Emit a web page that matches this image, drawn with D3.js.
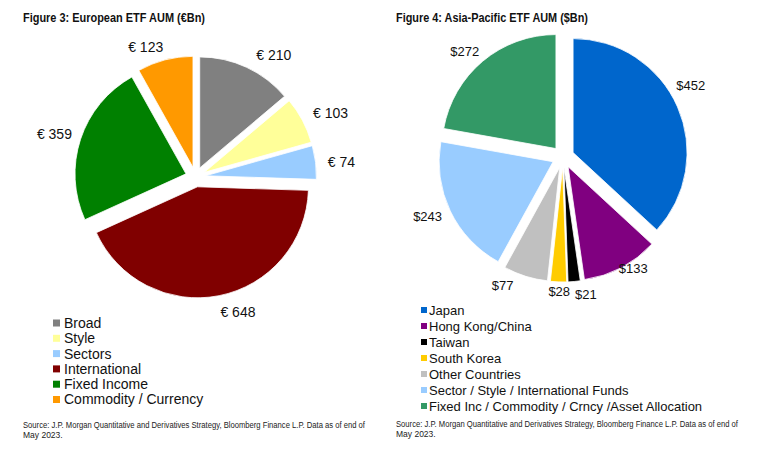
<!DOCTYPE html>
<html><head><meta charset="utf-8">
<script src="https://cdn.jsdelivr.net/npm/d3@7"></script>
<style>
body{margin:0;background:#fff;}
svg{display:block;font-family:"Liberation Sans",Arial,sans-serif;}
</style></head>
<body><svg id="c" width="768" height="470"></svg>
<script>
// ---- Data ----
const euCategories = ["Broad","Style","Sectors","International","Fixed Income","Commodity / Currency"];
const euValues = [210,103,74,648,359,123];
const euLabels = ["€ 210","€ 103","€ 74","€ 648","€ 359","€ 123"];
const apCategories = ["Japan","Hong Kong/China","Taiwan","South Korea","Other Countries","Sector / Style / International Funds","Fixed Inc / Commodity / Crncy /Asset Allocation"];
const apValues = [452,133,21,28,77,243,272];
const apLabels = ["$452","$133","$21","$28","$77","$243","$272"];
const euColors = ["#808080","#FFFF99","#99CCFF","#800000","#008000","#FF9900"];
const apColors = ["#0066CC","#800080","#000000","#FFCC00","#C0C0C0","#99CCFF","#339966"];
const titles = ["Figure 3: European ETF AUM (€Bn)","Figure 4: Asia-Pacific ETF AUM ($Bn)"];
const sourceLines = ["Source: J.P. Morgan Quantitative and Derivatives Strategy, Bloomberg Finance L.P. Data as of end of","May 2023."];

const svg = d3.select("#c");

// layout (label nudges: [angle degrees, radius px])
const panels = [
  {cats:euCategories, vals:euValues, labels:euLabels, colors:euColors, title:titles[0],
   cx:195.5, cy:177, r:111, d:10, gap:12, labelFont:14,
   labelAdj:[[6,2],[1,1],[1,0],[-5,1],[0,-2],[-5,-2]],
   lgX:53, lgY:323, lgStep:15.3, lgFont:14, sq:7, lgTextX:64,
   titleX:23, titleW:182, srcX:23, srcY:425, srcW:342},
  {cats:apCategories, vals:apValues, labels:apLabels, colors:apColors, title:titles[1],
   cx:563, cy:157, r:114, d:11, gap:9, labelFont:13,
   labelAdj:[[-7,0],[-3,-11],[-4,-1],[-0.5,-6],[7,1],[0.5,1],[-1.5,0]],
   lgX:421, lgY:310, lgStep:16, lgFont:13, sq:6, lgTextX:429,
   titleX:396, titleW:192, srcX:396, srcY:424, srcW:342}
];

panels.forEach(p => {
  const g = svg.append("g");
  g.append("text").attr("x", p.titleX).attr("y", 22)
    .attr("font-family", "'Liberation Sans Narrow','Arial Narrow','Liberation Sans',Arial,sans-serif")
    .attr("font-weight", "bold").attr("font-size", 12).attr("fill", "#111")
    .attr("textLength", p.titleW).attr("lengthAdjust", "spacingAndGlyphs")
    .text(p.title);

  const pie = d3.pie().sort(null).value(d => d)(p.vals);
  const arc = d3.arc().innerRadius(0).outerRadius(p.r);
  const mid = a => (a.startAngle + a.endAngle) / 2;

  const pg = g.append("g").attr("transform", `translate(${p.cx},${p.cy})`);
  pg.selectAll("path").data(pie).enter().append("path")
    .attr("d", arc)
    .attr("fill", (d, i) => p.colors[i])
    .attr("stroke", "#fff").attr("stroke-width", 0.8)
    .attr("transform", d => {
      const a = mid(d);
      return `translate(${Math.sin(a) * p.d},${-Math.cos(a) * p.d})`;
    });

  const lbl = pg.selectAll("text.lbl").data(pie).enter().append("text")
    .attr("class", "lbl").attr("font-size", p.labelFont).attr("fill", "#111")
    .attr("text-anchor", "middle").attr("dy", "0.35em")
    .text((d, i) => p.labels[i]);
  lbl.each(function(d, i) {
    const adj = p.labelAdj[i];
    const a = mid(d) + adj[0] * Math.PI / 180;
    const R = p.r + p.d + p.gap + adj[1];
    const w = this.getComputedTextLength();
    const h = p.labelFont;
    const x = Math.sin(a) * R + Math.sin(a) * w / 2;
    const y = -Math.cos(a) * R - Math.cos(a) * h / 2;
    d3.select(this).attr("x", x).attr("y", y);
  });

  const lg = g.append("g");
  p.cats.forEach((c, i) => {
    const y = p.lgY + i * p.lgStep;
    lg.append("rect").attr("x", p.lgX).attr("y", y - p.sq / 2).attr("width", p.sq).attr("height", p.sq)
      .attr("fill", p.colors[i]);
    lg.append("text").attr("x", p.lgTextX).attr("y", y).attr("dy", "0.35em")
      .attr("font-size", p.lgFont).attr("fill", "#111").text(c);
  });

  sourceLines.forEach((s, i) => {
    const t = g.append("text").attr("x", p.srcX).attr("y", p.srcY + i * 10).attr("dy", "0.35em")
      .attr("font-family", "'Liberation Sans Narrow','Arial Narrow','Liberation Sans',Arial,sans-serif")
      .attr("font-size", 8.5).attr("fill", "#222").text(s);
    if (i === 0) t.attr("textLength", p.srcW).attr("lengthAdjust", "spacingAndGlyphs");
  });
});
</script></body></html>
